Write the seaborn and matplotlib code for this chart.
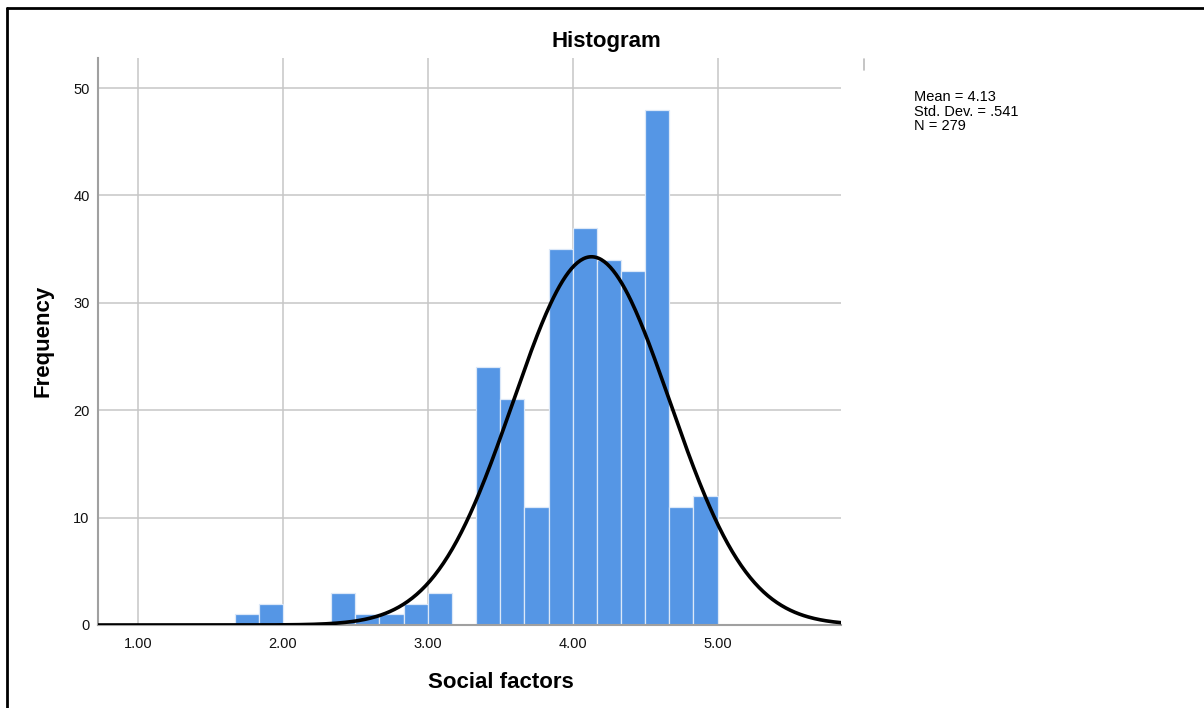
import numpy as np
import pandas as pd
import matplotlib
matplotlib.use("Agg")
import matplotlib.pyplot as plt
from matplotlib.lines import Line2D
import seaborn as sns

# histogram counts per bin (bins of 1/6 starting at 1.667)
bin_start = 5 / 3
bin_width = 1 / 6
counts = [1, 2, 0, 0, 3, 1, 1, 2, 3, 0, 24, 21, 11, 35, 37, 34, 33, 48, 11, 12]

# summary stats shown in the chart
mean_val = 4.13
std_val = 0.541
n_val = 279

x_ticks = [1.0, 2.0, 3.0, 4.0, 5.0]
x_tick_labels = ["1.00", "2.00", "3.00", "4.00", "5.00"]
y_ticks = [0, 10, 20, 30, 40, 50]

edges = bin_start + bin_width * np.arange(len(counts) + 1)
centers = (edges[:-1] + edges[1:]) / 2
df = pd.DataFrame({"value": centers, "count": counts})

sns.set_style("white")
plt.rcParams["font.family"] = ["Liberation Sans", "DejaVu Sans"]
plt.rcParams["text.color"] = "black"

fig = plt.figure(figsize=(12.04, 7.08), dpi=100)
W, H = 1204, 708
ax = fig.add_axes([98 / W, 1 - 625 / H, (841 - 98) / W, (625 - 58) / H])

xlim = (0.724, 5.852)
ylim = (0, 52.8)

# gridlines
for t in x_ticks:
    ax.axvline(t, color="#c6c6c6", lw=1.1, zorder=0)
for t in y_ticks[1:]:
    ax.axhline(t, color="#c6c6c6", lw=1.1, zorder=0)

sns.histplot(data=df, x="value", weights="count", binwidth=bin_width,
             binrange=(float(edges[0]), float(edges[-1])), ax=ax,
             color="#5596e5", edgecolor="#dce8f8", linewidth=0.9, alpha=1,
             zorder=2)

# normal curve from mean / sd
xs = np.linspace(xlim[0], xlim[1], 500)
ys = n_val * bin_width * np.exp(-0.5 * ((xs - mean_val) / std_val) ** 2) / (std_val * np.sqrt(2 * np.pi))
sns.lineplot(x=xs, y=ys, ax=ax, color="black", lw=2.6, zorder=3)

ax.set_xlim(xlim)
ax.set_ylim(ylim)
ax.set_xticks(x_ticks)
ax.set_xticklabels(x_tick_labels)
ax.set_yticks(y_ticks)
ax.tick_params(axis="both", length=0, labelsize=10.5, colors="#111111")
ax.tick_params(axis="x", pad=9)
ax.tick_params(axis="y", pad=6)
ax.set_xlabel("")
ax.set_ylabel("")

for side in ["top", "right"]:
    ax.spines[side].set_visible(False)
for side in ["left", "bottom"]:
    ax.spines[side].set_color("#a0a0a0")
    ax.spines[side].set_linewidth(1.5)

fig.text(606 / W, 1 - 41 / H, "Histogram", ha="center", va="center",
         fontsize=16, fontweight="bold")
fig.text(501 / W, 1 - 682 / H, "Social factors", ha="center", va="center",
         fontsize=16, fontweight="bold")
fig.text(43 / W, 1 - 341 / H, "Frequency", ha="center", va="center",
         rotation=90, fontsize=16, fontweight="bold")

stats = f"Mean = {mean_val:.2f}\nStd. Dev. = {str(std_val)[1:]}\nN = {n_val}"
fig.text(914 / W, 1 - 90 / H, stats, ha="left", va="top", fontsize=10.5,
         linespacing=1.05)

# small mark at top right of the plot and screenshot border
fig.add_artist(Line2D([864 / W, 864 / W], [1 - 59 / H, 1 - 70 / H], color="#bbbbbb", lw=1.2))
fig.add_artist(Line2D([7 / W, 7 / W], [0, 1 - 8 / H], color="black", lw=2))
fig.add_artist(Line2D([7 / W, 1], [1 - 8 / H, 1 - 8 / H], color="black", lw=2))

fig.savefig("out.png", dpi=100)
